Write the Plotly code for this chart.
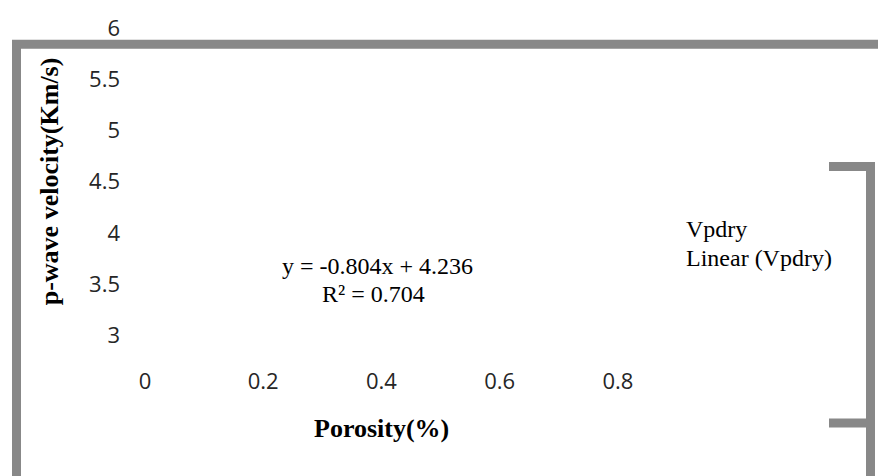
import plotly.graph_objects as go

# Axis ticks and ranges
x_ticks = [0, 0.2, 0.4, 0.6, 0.8]
y_ticks = [3, 3.5, 4, 4.5, 5, 5.5, 6]
x_range = [0, 0.9]
y_range = [2.7, 6]

# Linear fit of dry P-wave velocity against porosity
slope = -0.804
intercept = 4.236
r_squared = 0.704

series_name = "Vpdry"
trend_name = "Linear (Vpdry)"

W, H = 878, 476
ML, MR, MT, MB = 145, 201, 22, 110
PW, PH = W - ML - MR, H - MT - MB


def fx(px):
    """pixel column -> paper x"""
    return (px - ML) / PW


def fy(py):
    """pixel row -> paper y"""
    return (H - MB - py) / PH


SERIF = "Liberation Serif, Times New Roman, serif"
SANS = "Open Sans, Calibri, sans-serif"
GRAY = "#888888"
TXT = 24

fig = go.Figure()

# The series and its trendline carry no visible marks; they only appear in the legend
fig.add_trace(go.Scatter(
    x=[None], y=[None], mode="markers", name=series_name, legend="legend",
    marker=dict(color="rgba(0,0,0,0)", size=1),
))
fig.add_trace(go.Scatter(
    x=[None], y=[None], mode="lines", name=trend_name, legend="legend2",
    line=dict(color="rgba(0,0,0,0)", width=1),
))

eq_line1 = f"y = {slope:.3f}x + {intercept:.3f}"
eq_line2 = f"R² = {r_squared:.3f}"


def note(text, px, py, size=TXT, angle=0):
    return dict(text=text, x=fx(px), y=fy(py), xref="paper", yref="paper",
                xanchor="center", yanchor="middle", showarrow=False,
                textangle=angle, font=dict(family=SERIF, size=size, color="#000"))


annotations = [
    note("<b>p-wave velocity(Km/s)</b>", 49, 178, size=26, angle=-90),
    note("<b>Porosity(%)</b>", 381, 430, size=26),
    note(eq_line1, 377, 264),
    note(eq_line2, 373, 293),
]


def path(points):
    return "M " + " L ".join(f"{fx(a)},{fy(b)}" for a, b in points)


shapes = [
    # outer chart frame (top and left edges)
    dict(type="path", xref="paper", yref="paper",
         path=path([(16.5, 500), (16.5, 38.5), (900, 38.5)]),
         line=dict(color=GRAY, width=9)),
    # legend border
    dict(type="path", xref="paper", yref="paper",
         path=path([(829, 163), (870.5, 163), (870.5, 500)]),
         line=dict(color=GRAY, width=9)),
    dict(type="path", xref="paper", yref="paper",
         path=path([(829, 424), (870.5, 424)]),
         line=dict(color=GRAY, width=9)),
]

legend_style = dict(
    xanchor="left", yanchor="middle",
    font=dict(family=SERIF, size=TXT, color="#000"),
    bgcolor="rgba(0,0,0,0)", borderwidth=0, itemwidth=30,
)

fig.update_layout(
    width=W, height=H,
    margin=dict(l=ML, r=MR, t=MT, b=MB),
    paper_bgcolor="white", plot_bgcolor="white",
    showlegend=True,
    legend=dict(x=fx(646), y=fy(226), **legend_style),
    legend2=dict(x=fx(646), y=fy(255), **legend_style),
    xaxis=dict(
        range=x_range, tickvals=x_ticks, ticktext=[f"{v:g}" for v in x_ticks],
        showgrid=False, zeroline=False, showline=False, ticks="",
        tickfont=dict(family=SANS, size=22, color="#262626"),
    ),
    yaxis=dict(
        range=y_range, tickvals=y_ticks, ticktext=[f"{v:g}" for v in y_ticks],
        showgrid=False, zeroline=False, showline=False, ticks="",
        ticklabelstandoff=24,
        tickfont=dict(family=SANS, size=22, color="#262626"),
    ),
    annotations=annotations,
    shapes=shapes,
)

fig.write_html("out.html")
